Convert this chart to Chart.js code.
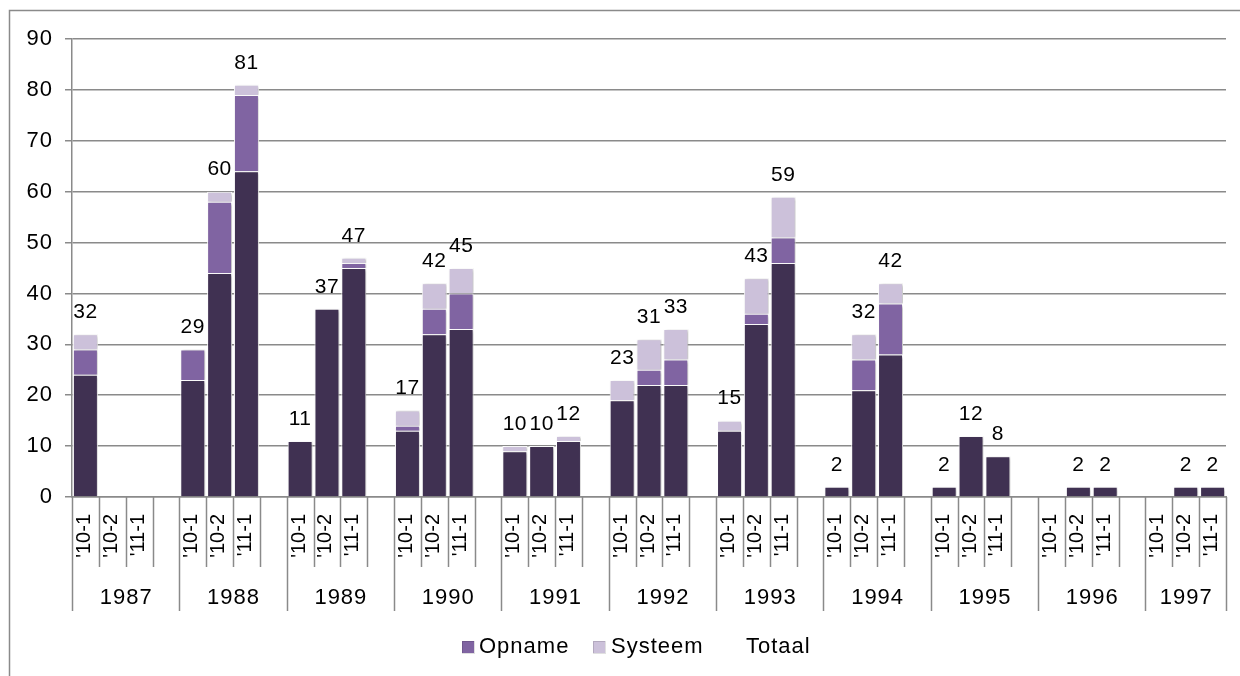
<!DOCTYPE html>
<html>
<head>
<meta charset="utf-8">
<script src="https://cdn.jsdelivr.net/npm/chart.js@4.4.1/dist/chart.umd.min.js"></script>
<style>
html,body{margin:0;padding:0;background:#fff;}
#wrap{width:1240px;height:676px;position:relative;}
canvas{display:block;}
</style>
</head>
<body>
<div id="wrap"><canvas id="c" width="1240" height="676"></canvas></div>
<script>
// ---- data (year-major, periods '10-1, '10-2, '11-1) ----
const years = ['1987','1988','1989','1990','1991','1992','1993','1994','1995','1996','1997'];
const periods = ["'10-1", "'10-2", "'11-1"];
const basis   = [24,0,0, 23,44,64, 11,37,45, 13,32,33, 9,10,11, 19,22,22, 13,34,46, 2,21,28, 2,12,8, 0,2,2, 0,2,2];
const opname  = [5,0,0,  6,14,15,  0,0,1,    1,5,7,    0,0,0,   0,3,5,    0,2,5,    0,6,10,  0,0,0, 0,0,0, 0,0,0];
const systeem = [3,0,0,  0,2,2,    0,0,1,    3,5,5,    1,0,1,   4,6,6,    2,7,8,    0,5,4,   0,0,0, 0,0,0, 0,0,0];
const totaal  = [32,0,0, 29,60,81, 11,37,47, 17,42,45, 10,10,12, 23,31,33, 15,43,59, 2,32,42, 2,12,8, 0,2,2, 0,2,2];
const yTickValues = [0,10,20,30,40,50,60,70,80,90];

const COL_BASIS = '#403152';
const COL_OPNAME = '#8064A2';
const COL_SYSTEEM = '#CCC1DA';
const GRAY = '#8a8a8a';
const FONT = "'Liberation Sans', Arial, sans-serif";

// spread into slots: 3 bars per year + an empty slot between years
function spread(arr, zeroAsNull) {
  const out = [];
  years.forEach((y, g) => {
    periods.forEach((p, i) => {
      const v = arr[g * 3 + i];
      out.push(zeroAsNull && v === 0 ? null : v);
    });
    if (g < years.length - 1) out.push(null);
  });
  return out;
}
const slotLabels = [];
years.forEach((y, g) => {
  periods.forEach(p => slotLabels.push(p));
  if (g < years.length - 1) slotLabels.push('');
});

const decor = {
  id: 'decor',
  beforeDraw(chart) {
    const ctx = chart.ctx;
    ctx.save();
    ctx.fillStyle = '#fff';
    ctx.fillRect(0, 0, chart.width, chart.height);
    ctx.strokeStyle = GRAY;
    ctx.lineWidth = 1.5;
    ctx.beginPath();
    ctx.moveTo(9.5, 676);
    ctx.lineTo(9.5, 10.5);
    ctx.lineTo(1240, 10.5);
    ctx.stroke();
    ctx.restore();
    ctx.letterSpacing = '1px';
  },
  beforeDatasetsDraw(chart) {
    const ctx = chart.ctx;
    ctx.save();
    ctx.shadowColor = 'rgba(0,0,0,0.28)';
    ctx.shadowBlur = 3;
    ctx.shadowOffsetX = 1.5;
    ctx.shadowOffsetY = 1;
  },
  afterDatasetsDraw(chart) {
    const ctx = chart.ctx;
    ctx.restore();
    // total labels
    const idx = chart.data.datasets.findIndex(d => d.label === 'Totaal');
    const meta = chart.getDatasetMeta(idx);
    const data = chart.data.datasets[idx].data;
    ctx.save();
    ctx.letterSpacing = '0.5px';
    ctx.font = '21px ' + FONT;
    ctx.fillStyle = '#000';
    ctx.textAlign = 'center';
    ctx.textBaseline = 'middle';
    meta.data.forEach((pt, i) => {
      const v = data[i];
      if (v === null || v === undefined) return;
      ctx.fillText(String(v), pt.x, pt.y - 22);
    });
    ctx.restore();
  },
  afterDraw(chart) {
    const ctx = chart.ctx;
    const xs = chart.scales.x;
    const axisY = chart.chartArea.bottom;
    const n = slotLabels.length;
    ctx.save();
    // separator lines below axis
    ctx.strokeStyle = GRAY;
    ctx.lineWidth = 1.5;
    for (let k = 0; k <= n; k++) {
      const x = Math.round(xs.getPixelForValue(k - 0.5)) + 0.5;
      const long = (k % 4 === 0) || k === n;
      ctx.beginPath();
      ctx.moveTo(x, axisY);
      ctx.lineTo(x, long ? 611 : 567);
      ctx.stroke();
    }
    // rotated period labels
    ctx.fillStyle = '#000';
    ctx.letterSpacing = '0px';
    ctx.font = '20px ' + FONT;
    ctx.textAlign = 'right';
    ctx.textBaseline = 'middle';
    slotLabels.forEach((lab, i) => {
      if (!lab) return;
      const x = xs.getPixelForValue(i);
      ctx.save();
      ctx.translate(x - 1, 514);
      ctx.rotate(-Math.PI / 2);
      ctx.fillText(lab, 0, 0);
      ctx.restore();
    });
    // year labels
    ctx.letterSpacing = '1px';
    ctx.font = '22px ' + FONT;
    ctx.textAlign = 'center';
    ctx.textBaseline = 'middle';
    years.forEach((y, g) => {
      const a = xs.getPixelForValue(4 * g - 0.5);
      const b = xs.getPixelForValue(Math.min(4 * g + 4, n) - 0.5);
      ctx.fillText(y, (a + b) / 2 + 0.5, 598);
    });
    // legend
    const legendY = 647;
    ctx.font = '22px ' + FONT;
    ctx.textAlign = 'left';
    ctx.textBaseline = 'middle';
    const items = [
      {label: 'Opname', color: COL_OPNAME, box: 462, text: 479},
      {label: 'Systeem', color: COL_SYSTEEM, box: 593, text: 611},
      {label: 'Totaal', color: null, box: 0, text: 746}
    ];
    items.forEach(it => {
      if (it.color) {
        ctx.fillStyle = it.color;
        ctx.fillRect(it.box, legendY - 6, 12, 12);
        ctx.strokeStyle = 'rgba(0,0,0,0.12)';
        ctx.lineWidth = 1;
        ctx.strokeRect(it.box + 0.5, legendY - 5.5, 12, 12);
      }
      ctx.fillStyle = '#000';
      ctx.fillText(it.label, it.text, legendY);
    });
    ctx.restore();
  }
};

new Chart(document.getElementById('c'), {
  data: {
    labels: slotLabels,
    datasets: [
      {type: 'bar', label: 'Basis', data: spread(basis, false), backgroundColor: COL_BASIS, borderColor: '#ffffff', borderWidth: 1, stack: 's'},
      {type: 'bar', label: 'Opname', data: spread(opname, false), backgroundColor: COL_OPNAME, borderColor: '#ffffff', borderWidth: 1, stack: 's'},
      {type: 'bar', label: 'Systeem', data: spread(systeem, false), backgroundColor: COL_SYSTEEM, borderColor: '#ffffff', borderWidth: 1, stack: 's'},
      {type: 'line', label: 'Totaal', data: spread(totaal, true), showLine: false, pointRadius: 0, pointHoverRadius: 0, borderColor: 'rgba(0,0,0,0)', backgroundColor: 'rgba(0,0,0,0)', stack: 'tot'}
    ]
  },
  options: {
    responsive: false,
    animation: false,
    devicePixelRatio: 1,
    layout: {padding: {top: 39, right: 14, bottom: 0, left: 0}},
    plugins: {legend: {display: false}, tooltip: {enabled: false}},
    datasets: {bar: {barPercentage: 0.93, categoryPercentage: 1.0}},
    scales: {
      x: {
        type: 'category',
        stacked: true,
        offset: true,
        ticks: {display: false},
        grid: {display: false},
        border: {display: true, color: GRAY, width: 1.5},
        afterFit(s) { s.height = 179; }
      },
      y: {
        stacked: true,
        min: 0,
        max: 90,
        afterBuildTicks(s) { s.ticks = yTickValues.map(v => ({value: v})); },
        ticks: {font: {size: 22, family: FONT}, color: '#000', padding: 12},
        grid: {color: GRAY, lineWidth: 1.5, tickLength: 7},
        border: {display: true, color: GRAY, width: 1.5},
        afterFit(s) { s.width = 72; }
      }
    }
  },
  plugins: [decor]
});
</script>
</body>
</html>
